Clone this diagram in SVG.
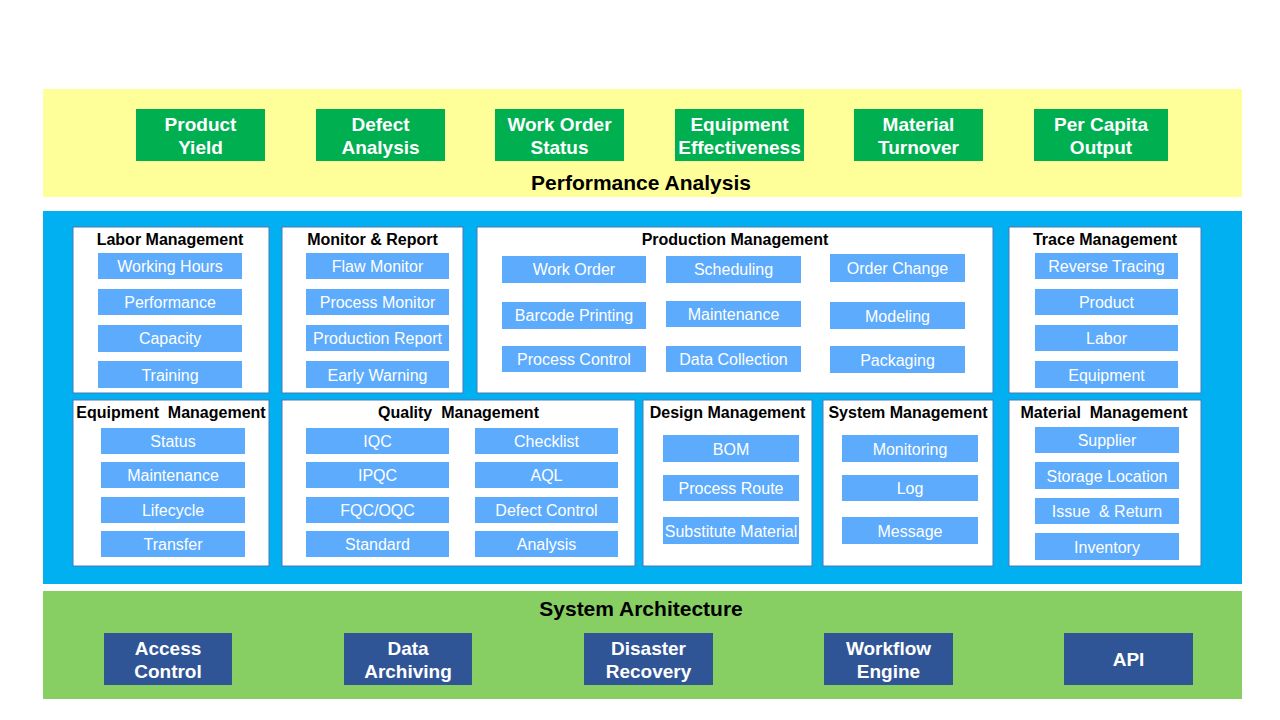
<svg xmlns="http://www.w3.org/2000/svg" width="1280" height="720" viewBox="0 0 1280 720">
<style>
.band-y{fill:#FFFF99}
.band-b{fill:#00B0F0}
.band-g{fill:#87CF63}
.kpi{fill:#00B050}
.arch{fill:#2F5597}
.panel{fill:#fff;stroke:#4A78B8;stroke-width:1}
.item{fill:#5DABFC}
.big{font-family:"Liberation Sans",Arial,sans-serif;font-size:19px;font-weight:bold;fill:#fff;text-anchor:middle}
.band-t{font-family:"Liberation Sans",Arial,sans-serif;font-size:21px;font-weight:bold;fill:#000;text-anchor:middle}
.pt{font-family:"Liberation Sans",Arial,sans-serif;font-size:16px;font-weight:bold;fill:#000;text-anchor:middle}
.it{font-family:"Liberation Sans",Arial,sans-serif;font-size:16px;fill:#fff;text-anchor:middle}
</style>
<rect width="1280" height="720" fill="#fff"/>

<g id="performance-analysis">
<rect class="band-y" x="43" y="89" width="1199" height="108"/>
<text class="band-t" x="641" y="190">Performance Analysis</text>
</g>
<g id="kpi-product-yield"><rect class="kpi" x="136" y="109" width="129" height="52"/><text class="big" x="200.5" y="131">Product</text><text class="big" x="200.5" y="154">Yield</text></g>
<g id="kpi-defect-analysis"><rect class="kpi" x="316" y="109" width="129" height="52"/><text class="big" x="380.5" y="131">Defect</text><text class="big" x="380.5" y="154">Analysis</text></g>
<g id="kpi-work-order-status"><rect class="kpi" x="495" y="109" width="129" height="52"/><text class="big" x="559.5" y="131">Work Order</text><text class="big" x="559.5" y="154">Status</text></g>
<g id="kpi-equipment-effectiveness"><rect class="kpi" x="675" y="109" width="129" height="52"/><text class="big" x="739.5" y="131">Equipment</text><text class="big" x="739.5" y="154">Effectiveness</text></g>
<g id="kpi-material-turnover"><rect class="kpi" x="854" y="109" width="129" height="52"/><text class="big" x="918.5" y="131">Material</text><text class="big" x="918.5" y="154">Turnover</text></g>
<g id="kpi-per-capita-output"><rect class="kpi" x="1034" y="109" width="134" height="52"/><text class="big" x="1101" y="131">Per Capita</text><text class="big" x="1101" y="154">Output</text></g>

<g id="core-band"><rect class="band-b" x="43" y="211" width="1199" height="373"/></g>

<g id="labor-management">
<rect class="panel" x="73" y="227" width="196" height="166"/>
<text class="pt" x="170" y="245">Labor Management</text>
<rect class="item" x="98" y="253" width="144" height="26"/><text class="it" x="170" y="272">Working Hours</text>
<rect class="item" x="98" y="289" width="144" height="26"/><text class="it" x="170" y="308">Performance</text>
<rect class="item" x="98" y="325" width="144" height="27"/><text class="it" x="170" y="344">Capacity</text>
<rect class="item" x="98" y="361" width="144" height="27"/><text class="it" x="170" y="381">Training</text>
</g>

<g id="monitor-report">
<rect class="panel" x="282" y="227" width="181" height="166"/>
<text class="pt" x="372.5" y="245">Monitor &amp; Report</text>
<rect class="item" x="306" y="253" width="143" height="26"/><text class="it" x="377.5" y="272">Flaw Monitor</text>
<rect class="item" x="306" y="289" width="143" height="26"/><text class="it" x="377.5" y="308">Process Monitor</text>
<rect class="item" x="306" y="325" width="143" height="26"/><text class="it" x="377.5" y="344">Production Report</text>
<rect class="item" x="306" y="361" width="143" height="27"/><text class="it" x="377.5" y="381">Early Warning</text>
</g>

<g id="production-management">
<rect class="panel" x="477" y="227" width="516" height="166"/>
<text class="pt" x="735" y="245">Production Management</text>
<rect class="item" x="502" y="256" width="144" height="27"/><text class="it" x="574" y="275">Work Order</text>
<rect class="item" x="666" y="256" width="135" height="27"/><text class="it" x="733.5" y="275">Scheduling</text>
<rect class="item" x="830" y="254" width="135" height="28"/><text class="it" x="897.5" y="274">Order Change</text>
<rect class="item" x="502" y="302" width="144" height="27"/><text class="it" x="574" y="321">Barcode Printing</text>
<rect class="item" x="666" y="301" width="135" height="26"/><text class="it" x="733.5" y="320">Maintenance</text>
<rect class="item" x="830" y="302" width="135" height="27"/><text class="it" x="897.5" y="322">Modeling</text>
<rect class="item" x="502" y="346" width="144" height="26"/><text class="it" x="574" y="365">Process Control</text>
<rect class="item" x="666" y="346" width="135" height="26"/><text class="it" x="733.5" y="365">Data Collection</text>
<rect class="item" x="830" y="346" width="135" height="27"/><text class="it" x="897.5" y="366">Packaging</text>
</g>

<g id="trace-management">
<rect class="panel" x="1009" y="227" width="192" height="166"/>
<text class="pt" x="1105" y="245">Trace Management</text>
<rect class="item" x="1035" y="253" width="143" height="26"/><text class="it" x="1106.5" y="272">Reverse Tracing</text>
<rect class="item" x="1035" y="289" width="143" height="26"/><text class="it" x="1106.5" y="308">Product</text>
<rect class="item" x="1035" y="325" width="143" height="26"/><text class="it" x="1106.5" y="344">Labor</text>
<rect class="item" x="1035" y="361" width="143" height="27"/><text class="it" x="1106.5" y="381">Equipment</text>
</g>

<g id="equipment-management">
<rect class="panel" x="73" y="400" width="196" height="166"/>
<text class="pt" x="171" y="418" xml:space="preserve">Equipment  Management</text>
<rect class="item" x="101" y="428" width="144" height="26"/><text class="it" x="173" y="447">Status</text>
<rect class="item" x="101" y="462" width="144" height="26"/><text class="it" x="173" y="481">Maintenance</text>
<rect class="item" x="101" y="497" width="144" height="26"/><text class="it" x="173" y="516">Lifecycle</text>
<rect class="item" x="101" y="531" width="144" height="26"/><text class="it" x="173" y="550">Transfer</text>
</g>

<g id="quality-management">
<rect class="panel" x="282" y="400" width="353" height="166"/>
<text class="pt" x="458.5" y="418" xml:space="preserve">Quality  Management</text>
<rect class="item" x="306" y="428" width="143" height="26"/><text class="it" x="377.5" y="447">IQC</text>
<rect class="item" x="475" y="428" width="143" height="26"/><text class="it" x="546.5" y="447">Checklist</text>
<rect class="item" x="306" y="462" width="143" height="26"/><text class="it" x="377.5" y="481">IPQC</text>
<rect class="item" x="475" y="462" width="143" height="26"/><text class="it" x="546.5" y="481">AQL</text>
<rect class="item" x="306" y="497" width="143" height="26"/><text class="it" x="377.5" y="516">FQC/OQC</text>
<rect class="item" x="475" y="497" width="143" height="26"/><text class="it" x="546.5" y="516">Defect Control</text>
<rect class="item" x="306" y="531" width="143" height="26"/><text class="it" x="377.5" y="550">Standard</text>
<rect class="item" x="475" y="531" width="143" height="26"/><text class="it" x="546.5" y="550">Analysis</text>
</g>

<g id="design-management">
<rect class="panel" x="643" y="400" width="169" height="166"/>
<text class="pt" x="727.5" y="418">Design Management</text>
<rect class="item" x="663" y="435" width="136" height="27"/><text class="it" x="731" y="455">BOM</text>
<rect class="item" x="663" y="475" width="136" height="26"/><text class="it" x="731" y="494">Process Route</text>
<rect class="item" x="663" y="517" width="136" height="27"/><text class="it" x="731" y="537">Substitute Material</text>
</g>

<g id="system-management">
<rect class="panel" x="823" y="400" width="170" height="166"/>
<text class="pt" x="908" y="418">System Management</text>
<rect class="item" x="842" y="435" width="136" height="27"/><text class="it" x="910" y="455">Monitoring</text>
<rect class="item" x="842" y="475" width="136" height="26"/><text class="it" x="910" y="494">Log</text>
<rect class="item" x="842" y="517" width="136" height="27"/><text class="it" x="910" y="537">Message</text>
</g>

<g id="material-management">
<rect class="panel" x="1009" y="400" width="192" height="166"/>
<text class="pt" x="1104" y="418" xml:space="preserve">Material  Management</text>
<rect class="item" x="1035" y="427" width="144" height="26"/><text class="it" x="1107" y="446">Supplier</text>
<rect class="item" x="1035" y="462" width="144" height="27"/><text class="it" x="1107" y="482">Storage Location</text>
<rect class="item" x="1035" y="498" width="144" height="26"/><text class="it" x="1107" y="517" xml:space="preserve">Issue  &amp; Return</text>
<rect class="item" x="1035" y="533" width="144" height="27"/><text class="it" x="1107" y="553">Inventory</text>
</g>

<g id="system-architecture">
<rect class="band-g" x="43" y="591" width="1199" height="108"/>
<text class="band-t" x="641" y="616">System Architecture</text>
</g>
<g id="arch-access-control"><rect class="arch" x="104" y="633" width="128" height="52"/><text class="big" x="168" y="655">Access</text><text class="big" x="168" y="678">Control</text></g>
<g id="arch-data-archiving"><rect class="arch" x="344" y="633" width="128" height="52"/><text class="big" x="408" y="655">Data</text><text class="big" x="408" y="678">Archiving</text></g>
<g id="arch-disaster-recovery"><rect class="arch" x="584" y="633" width="129" height="52"/><text class="big" x="648.5" y="655">Disaster</text><text class="big" x="648.5" y="678">Recovery</text></g>
<g id="arch-workflow-engine"><rect class="arch" x="824" y="633" width="129" height="52"/><text class="big" x="888.5" y="655">Workflow</text><text class="big" x="888.5" y="678">Engine</text></g>
<g id="arch-api"><rect class="arch" x="1064" y="633" width="129" height="52"/><text class="big" x="1128.5" y="666">API</text></g>

<g id="connectors"></g>
</svg>
